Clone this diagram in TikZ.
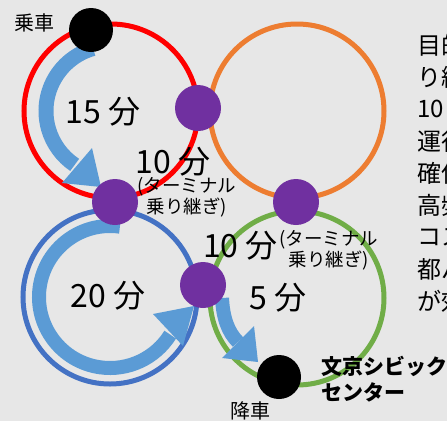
\documentclass[tikz,border=0pt]{standalone}
\usepackage{fontspec}
\setmainfont{Noto Sans CJK JP}
\usetikzlibrary{calc}
\definecolor{bg}{RGB}{231,231,231}
\definecolor{cred}{RGB}{255,0,0}
\definecolor{corange}{RGB}{237,125,49}
\definecolor{cblue}{RGB}{68,114,196}
\definecolor{cgreen}{RGB}{112,173,71}
\definecolor{lblue}{RGB}{91,155,213}
\definecolor{cpurple}{RGB}{112,48,160}
\tikzset{
  ring/.style={line width=5pt},
  shaft/.style={line width=15pt, draw=lblue},
  head/.style={fill=lblue},
  pdot/.style={circle, fill=cpurple, minimum size=46pt, inner sep=0pt},
  bdot/.style={circle, fill=black, minimum size=44pt, inner sep=0pt},
  big/.style={inner sep=0pt, font=\fontsize{32}{36}\selectfont},
  lbl/.style={inner sep=0pt, font=\fontsize{20}{24}\selectfont},
  small/.style={inner sep=0pt, align=center, font=\fontsize{18.5}{21}\selectfont},
  side/.style={inner sep=0pt, anchor=west, font=\fontsize{24}{28}\selectfont},
}
\begin{document}
\begin{tikzpicture}[x=1pt,y=-1pt]
\clip (0,0) rectangle (447,421);
\fill[bg] (0,0) rectangle (447,421);
% centres
\coordinate (c1) at (111,111);
\coordinate (c2) at (297,111);
\coordinate (c3) at (110,297);
\coordinate (c4) at (297,298);
% circles
\draw[ring, cred] (c1) circle[radius=87];
\draw[ring, corange] (c2) circle[radius=87];
\draw[ring, cblue] (c3) circle[radius=87];
\draw[ring, cgreen] (c4) circle[radius=87];
% arrow 1 (15 min)
\draw[shaft] ($(c1)+(-106:65)$) arc[start angle=-106, end angle=-236, radius=65];
\fill[head] (62,183) -- (92,148) -- (101,187) -- cycle;
% arrow 2 (20 min)
\draw[shaft, line width=14pt] ($(c3)+(-82:71)$) arc[start angle=-82, end angle=-328, radius=71];
\fill[head] (153,314) -- (183,346) -- (194,306) -- cycle;
% arrow 3 (5 min)
\draw[shaft, line width=14pt] (222,298) .. controls (223,318) and (228,332) .. (238,342);
\fill[head] (254,326) -- (222,358) -- (258,362) -- cycle;
% dots
\node[bdot] (start) at (91,30) {};
\node[bdot] (goal) at (279,377) {};
\node[pdot] (d1) at (198,108) {};
\node[pdot] (d2) at (115,202) {};
\node[pdot] (d3) at (296,202) {};
\node[pdot] (d4) at (203,285) {};
% labels
\node[lbl] (lstart) at (34.5,22.5) {乗車};
\node[lbl] (lgoal) at (250.5,410.5) {降車};
\node[big] (t15) at (103,112) {15 分};
\node[big] (t10a) at (173,162) {10 分};
\node[small] (k1) at (187,197.5) {(ターミナル\\乗り継ぎ)};
\node[big] (t20) at (108,296) {20 分};
\node[big] (t10b) at (240.5,246) {10 分};
\node[small] (k2) at (329,250.5) {(ターミナル\\乗り継ぎ)};
\node[big] (t5) at (278,298) {5 分};
\node[inner sep=0pt, anchor=west, align=left, font=\bfseries\fontsize{21}{26}\selectfont] (place) at (321,379) {文京シビック\\センター};
% side text (clipped)
\node[side] (s1) at (417,45) {目的地まで};
\node[side] (s2) at (417,77) {り継ぎ};
\node[side] (s3) at (417,109) {10 分};
\node[side] (s4) at (417,141) {運行};
\node[side] (s5) at (417,173) {確保};
\node[side] (s6) at (417,205) {高頻度};
\node[side] (s7) at (417,237) {コスト};
\node[side] (s8) at (417,269) {都バス};
\node[side] (s9) at (417,301) {が効率};
\end{tikzpicture}
\end{document}
